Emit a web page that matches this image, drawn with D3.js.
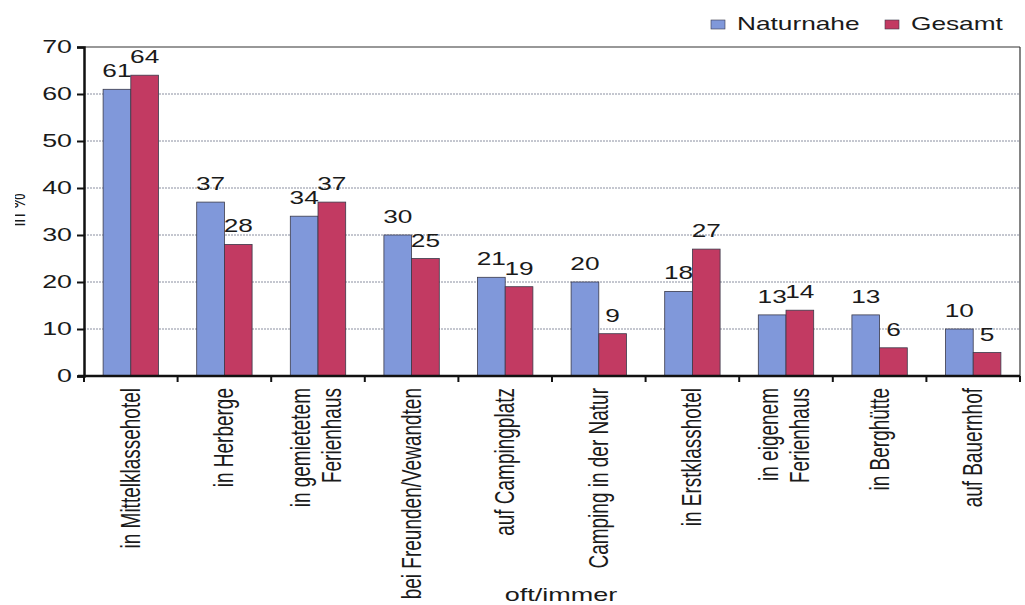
<!DOCTYPE html>
<html><head><meta charset="utf-8">
<script src="https://cdn.jsdelivr.net/npm/d3@7"></script>
<style>
body{margin:0;background:#fff;}
svg{display:block;font-family:"Liberation Sans",Arial,sans-serif;}
</style></head>
<body>
<svg id="chart" width="1025" height="605"></svg>
<script>
const categories = [
  ["in Mittelklassehotel"],
  ["in Herberge"],
  ["in gemietetem","Ferienhaus"],
  ["bei Freunden/Vewandten"],
  ["auf Campingplatz"],
  ["Camping in der Natur"],
  ["in Erstklasshotel"],
  ["in eigenem","Ferienhaus"],
  ["in Berghütte"],
  ["auf Bauernhof"]
];
const seriesNames = ["Naturnahe","Gesamt"];
const naturnahe = [61,37,34,30,21,20,18,13,13,10];
const gesamt = [64,28,37,25,19,9,27,14,6,5];
const yTicks = [0,10,20,30,40,50,60,70];
const xTitle = "oft/immer";
const yTitle = "in %";
const colors = ["#8098DA","#C23A62"];

const SX = 1.5; // horizontal stretch of glyphs seen in the reference
const svg = d3.select("#chart");
const L=84, R=1020, T=47, B=376;

const x = d3.scaleBand().domain(d3.range(categories.length)).range([L,R]).paddingInner(0).paddingOuter(0);
const x1 = d3.scaleBand().domain([0,1]).range([0,x.bandwidth()]).paddingOuter(0.69).paddingInner(0);
const y = d3.scaleLinear().domain([0,70]).range([B,T]);

// gridlines
svg.append("g").selectAll("line").data(yTicks.filter(d=>d>0 && d<70)).join("line")
  .attr("x1",L).attr("x2",R).attr("y1",d=>y(d)).attr("y2",d=>y(d))
  .attr("stroke","#8a8fa0").attr("stroke-width",1).attr("stroke-dasharray","2,1");

// frame top & right
svg.append("line").attr("x1",L).attr("x2",R).attr("y1",T).attr("y2",T).attr("stroke","#333").attr("stroke-width",1.2);
svg.append("line").attr("x1",R).attr("x2",R).attr("y1",T).attr("y2",B).attr("stroke","#333").attr("stroke-width",1.2);

const data = categories.map((c,i)=>({i, vals:[naturnahe[i],gesamt[i]]}));

const g = svg.append("g").selectAll("g").data(data).join("g")
  .attr("transform",d=>`translate(${x(d.i)},0)`);
g.selectAll("rect").data(d=>d.vals.map((v,k)=>({v,k}))).join("rect")
  .attr("x",d=>x1(d.k)).attr("width",x1.bandwidth())
  .attr("y",d=>y(d.v)).attr("height",d=>B-y(d.v))
  .attr("fill",d=>colors[d.k]).attr("stroke","#3a3a4a").attr("stroke-width",0.8);
g.selectAll("text").data(d=>d.vals.map((v,k)=>({v,k}))).join("text")
  .attr("transform",d=>`translate(${x1(d.k)+x1.bandwidth()/2},${y(d.v)-12}) scale(${SX},1)`)
  .attr("text-anchor","middle").attr("font-size",17.5).attr("fill","#1a1a1a")
  .text(d=>d.v);

// y axis
const yAxis = d3.axisLeft(y).tickValues(yTicks).tickSize(7).tickPadding(4);
const ya = svg.append("g").attr("transform",`translate(${L},0)`).call(yAxis);
ya.select(".domain").attr("stroke","#111").attr("stroke-width",2.5);
ya.selectAll(".tick line").attr("stroke","#111").attr("stroke-width",2);
ya.selectAll(".tick text").attr("font-size",18.5).attr("fill","#1a1a1a")
  .attr("font-family","Liberation Sans, Arial, sans-serif")
  .attr("x",-12/1.45).attr("transform","scale(1.45,1)");

// x axis
const xa = svg.append("g").attr("transform",`translate(0,${B})`);
xa.append("line").attr("x1",L-6).attr("x2",R).attr("stroke","#111").attr("stroke-width",2.5);
xa.selectAll("line.tk").data(d3.range(categories.length+1)).join("line").attr("class","tk")
  .attr("x1",d=>L+d*x.bandwidth()).attr("x2",d=>L+d*x.bandwidth()).attr("y1",0).attr("y2",6)
  .attr("stroke","#111").attr("stroke-width",2);

// category labels
const lab = svg.append("g").selectAll("g").data(categories).join("g")
  .attr("transform",(d,i)=>`translate(${x(i)+x.bandwidth()/2},388) rotate(-90) scale(1,${SX})`);
lab.each(function(lines){
  const n = lines.length;
  const offs = n===1 ? [9] : [-8,23];
  lines.forEach((t,j)=>{
    d3.select(this).append("text")
      .attr("x",0).attr("y",offs[j]/SX)
      .attr("text-anchor","end").attr("font-size",19).attr("fill","#1a1a1a")
      .text(t);
  });
});

// axis titles
svg.append("text").attr("transform",`translate(561,601) scale(${SX},1)`).attr("text-anchor","middle")
  .attr("font-size",18).attr("fill","#1a1a1a").text(xTitle);
svg.append("clipPath").attr("id","cl").append("rect").attr("x",15).attr("y",0).attr("width",60).attr("height",605);
svg.append("g").attr("clip-path","url(#cl)").append("text")
  .attr("transform",`translate(25,210) rotate(-90) scale(1,${SX})`).attr("text-anchor","middle")
  .attr("font-size",17).attr("fill","#1a1a1a").text(yTitle);

// legend
const lg = svg.append("g");
const lx = [711, 885];
seriesNames.forEach((s,k)=>{
  lg.append("rect").attr("x",lx[k]).attr("y",20).attr("width",14).attr("height",9)
    .attr("fill",colors[k]).attr("stroke","#3a3a4a").attr("stroke-width",0.6);
  lg.append("text").attr("transform",`translate(${lx[k]+26},30) scale(${SX},1)`)
    .attr("font-size",17.5).attr("fill","#1a1a1a").text(s);
});
</script>
</body></html>
